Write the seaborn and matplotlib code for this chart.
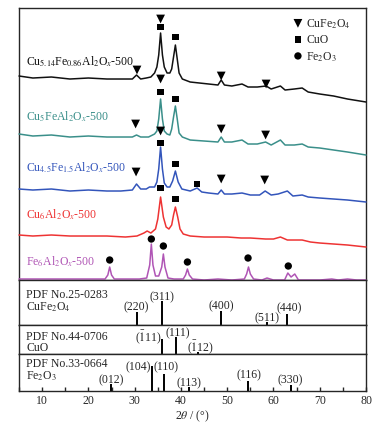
import matplotlib
matplotlib.use("Agg")
import matplotlib.pyplot as plt
import seaborn as sns
from matplotlib.ticker import MultipleLocator

# ==========================================
# DATA
# ==========================================
# Cu5.14Fe0.86Al2Ox-500 (black)
tt_black = [5, 8, 12, 16, 20, 24, 27, 29.5, 30.4, 31.3, 32.5, 33.5, 34.3, 34.8, 35.2, 35.6, 36.0, 36.4, 37.0, 37.6,
            38.0, 38.4, 38.8, 39.2, 39.6, 40.3, 42, 44, 46, 48.0, 48.7, 49.4, 51, 53.2, 54.5, 56.5, 58.4, 59.5, 61.5, 62.5,
            64.5, 66.2, 67.5, 70, 73, 76, 80]
int_black = [206, 204, 205, 203, 204, 203, 203, 203, 207, 203, 204, 205, 209, 215, 227, 249, 227, 215, 209, 209,
             213, 225, 237, 223, 209, 203, 200, 199, 198, 197, 202, 197, 196, 198, 195, 195, 196, 193, 196, 192,
             193, 194, 190, 188, 186, 183, 180]

# Cu5FeAl2Ox-500 (teal)
tt_teal = [5, 8, 12, 16, 20, 24, 27, 29.5, 30.4, 31.3, 33, 34.3, 34.8, 35.2, 35.6, 36.0, 36.4, 37.0, 37.6, 38.0,
           38.4, 38.8, 39.2, 39.6, 40.3, 42, 45, 48.0, 48.7, 49.4, 51, 53.2, 54.5, 56.5, 58.3, 59.5, 61.5, 62.5, 64.5, 66.2,
           67.5, 70, 73, 76, 80]
int_teal = [148, 146, 147, 145, 146, 145, 145, 145, 147, 145, 145, 148, 151, 163, 183, 163, 151, 148, 147, 153,
            165, 176, 163, 149, 145, 142, 141, 140, 145, 140, 140, 142, 138, 138, 140, 137, 142, 137, 137, 138,
            135, 134, 132, 130, 127]

# Cu4.5Fe1.5Al2Ox-500 (blue)
tt_blue = [5, 8, 12, 16, 20, 24, 27, 29.5, 30.4, 31.3, 32.5, 33.2, 34.3, 34.8, 35.2, 35.6, 36.0, 36.4, 37.0, 37.6,
           38.2, 38.8, 39.4, 40.2, 42, 43.5, 44.5, 46, 48.0, 48.7, 49.4, 51, 53.2, 55, 57, 58.2, 59.5, 61, 63.0, 64.2,
           66.2, 67.5, 70, 73, 76, 80]
int_blue = [93, 92, 93, 91, 92, 91, 91, 92, 98, 93, 93, 95, 95, 100, 113, 135, 113, 99, 95, 95,
            101, 111, 100, 93, 91, 94, 90, 89, 88, 92, 88, 88, 89, 87, 87, 91, 87, 88, 91, 86,
            87, 85, 84, 83, 82, 80]

# Cu6Al2Ox-500 (red)
tt_red = [5, 8, 12, 16, 20, 24, 28, 30.5, 32.0, 32.7, 33.5, 34.5, 35.0, 35.6, 36.2, 36.8, 37.4, 38.0, 38.4, 38.8,
          39.3, 39.8, 40.5, 42, 45, 48, 50, 53, 55, 58.3, 60, 61.5, 63, 65, 66.2, 68, 70, 73, 76, 80]
int_red = [47, 46, 47, 46, 46, 46, 45, 46, 49, 51, 49, 53, 63, 85, 65, 55, 53, 57, 67, 75,
           65, 53, 48, 46, 45, 45, 45, 44, 44, 43, 43, 45, 42, 42, 42, 40, 39, 38, 37, 35]

# Fe6Al2Ox-500 (purple)
tt_purple = [5, 8, 12, 16, 20, 23.6, 24.2, 24.6, 25.0, 25.6, 28, 31, 32.6, 33.25, 33.6, 33.95, 34.5, 35.2, 35.85, 36.2,
             36.55, 37.2, 38.5, 40.5, 41.0, 41.4, 41.8, 42.5, 45, 48, 51, 53.7, 54.2, 54.6, 55.0, 55.7, 57.5, 58.6, 60, 62.4,
             62.7, 63.1, 63.8, 64.6, 65.4, 67.5, 70, 72.6, 74, 76, 78, 80]
int_purple = [3, 3, 3, 3, 3, 3, 7, 15, 7, 3, 3, 3, 4, 17, 38, 17, 6, 6, 15, 28,
              15, 4, 3, 3, 7, 13, 7, 3, 2, 3, 2, 3, 8, 15, 8, 3, 2, 4, 2, 2,
              5, 9, 5, 8, 2, 2, 2, 3, 2, 3, 2, 2]

# phase markers placed over the patterns
tri_tt = [30.5, 35.6, 48.7, 58.4, 30.2, 35.6, 48.7, 58.3, 30.3, 35.6, 48.7, 58.1]
tri_int = [212, 263, 206, 198, 158, 203, 153, 147, 110, 151, 103, 102]
sq_tt = [35.6, 38.8, 35.6, 38.8, 35.6, 38.8, 43.5, 35.6, 38.8]
sq_int = [255, 245, 190, 183, 139, 118, 98, 94, 83]
dot_tt = [24.6, 33.6, 36.2, 41.4, 54.5, 63.2]
dot_int = [22, 43, 36, 20, 24, 16]

# standard cards (stick patterns)
cufe_tt = [30.4, 35.8, 48.7, 58.5, 63.0]
cufe_h = [13, 24, 14, 3, 11]
cufe_hkl = ["(220)", "(311)", "(400)", "(511)", "(440)"]

cuo_tt = [36.0, 38.9, 43.7]
cuo_h = [15, 17, 2]
cuo_hkl = [r"($\bar{1}$11)", "(111)", r"($\bar{1}$12)"]

fe_tt = [24.8, 33.7, 36.3, 41.7, 54.6, 63.7]
fe_h = [7, 25, 17, 4, 10, 6]
fe_hkl = ["(012)", "(104)", "(110)", "(113)", "(116)", "(330)"]

sample_names = [r"Cu$_{5.14}$Fe$_{0.86}$Al$_2$O$_x$-500", r"Cu$_5$FeAl$_2$O$_x$-500",
                r"Cu$_{4.5}$Fe$_{1.5}$Al$_2$O$_x$-500", r"Cu$_6$Al$_2$O$_x$-500", r"Fe$_6$Al$_2$O$_x$-500"]

# ==========================================
# STYLE
# ==========================================
sns.set_style("ticks")
plt.rcParams["font.family"] = ["Liberation Serif", "DejaVu Serif"]
plt.rcParams["mathtext.fontset"] = "stix"
plt.rcParams["axes.linewidth"] = 1.0
FS = 8.5

colors = ["#111111", "#3a8f8a", "#3355bb", "#ee3333", "#b055b5"]
traces = [(tt_black, int_black), (tt_teal, int_teal), (tt_blue, int_blue),
          (tt_red, int_red), (tt_purple, int_purple)]
name_y = [221, 166, 115, 68, 21]

fig = plt.figure(figsize=(3.8, 4.31), dpi=100)
L, W = 0.05, 0.9132
ax_main = fig.add_axes([L, 0.348, W, 0.6311])
ax_cufe = fig.add_axes([L, 0.2436, W, 0.1044])
ax_cuo = fig.add_axes([L, 0.1763, W, 0.0673])
ax_fe = fig.add_axes([L, 0.0905, W, 0.0858])

# ---- main panel: measured patterns ----
for (xx, yy), c, name, ny in zip(traces, colors, sample_names, name_y):
    sns.lineplot(x=xx, y=yy, color=c, linewidth=1.1, estimator=None, sort=False, ax=ax_main)
    ax_main.text(6.6, ny, name, color=c, fontsize=FS, ha="left", va="center")
for ln in ax_main.lines:
    ln.set_clip_on(False)
    ln.set_zorder(3)

sns.scatterplot(x=tri_tt, y=tri_int, marker="v", s=40, color="black", edgecolor="none",
                label=r"CuFe$_2$O$_4$", ax=ax_main, zorder=5)
sns.scatterplot(x=sq_tt, y=sq_int, marker="s", s=22, color="black", edgecolor="none",
                label="CuO", ax=ax_main, zorder=5)
sns.scatterplot(x=dot_tt, y=dot_int, marker="o", s=28, color="black", edgecolor="none",
                label=r"Fe$_2$O$_3$", ax=ax_main, zorder=5)
ax_main.legend(loc="upper right", bbox_to_anchor=(0.977, 0.995), frameon=False, fontsize=FS,
               handletextpad=0.1, labelspacing=0.3, handlelength=1.2, borderaxespad=0.2)
ax_main.set_ylim(2, 274)

# ---- stick panels ----
def stick_panel(ax, tt, h, hkl, top, card, phase, card_y, lab_pos):
    ax.vlines(tt, 0, h, color="black", linewidth=1.4)
    for (lx, ly, ha), s in zip(lab_pos, hkl):
        ax.text(lx, ly, s, fontsize=FS, ha=ha, va="center")
    ax.text(6.6, card_y[0], card, fontsize=FS, ha="left", va="center")
    ax.text(6.6, card_y[1], phase, fontsize=FS, ha="left", va="center")
    ax.set_ylim(0, top)

stick_panel(ax_cufe, cufe_tt, cufe_h, cufe_hkl, 45, "PDF No.25-0283", r"CuFe$_2$O$_4$", (31, 19),
            [(30.4, 19, "center"), (35.8, 29, "center"), (48.7, 20, "center"),
             (58.5, 8, "center"), (63.4, 18, "center")])
stick_panel(ax_cuo, cuo_tt, cuo_h, cuo_hkl, 29, "PDF No.44-0706", "CuO", (18, 7),
            [(35.8, 18, "right"), (39.3, 22, "center"), (44.2, 8, "center")])
stick_panel(ax_fe, fe_tt, fe_h, fe_hkl, 37, "PDF No.33-0664", r"Fe$_2$O$_3$", (28, 16),
            [(24.9, 12, "center"), (33.5, 25, "right"), (36.8, 25, "center"),
             (41.7, 9, "center"), (54.6, 17, "center"), (63.7, 12, "center")])

for ax in [ax_main, ax_cufe, ax_cuo, ax_fe]:
    ax.set_xlim(5, 80)
    ax.set_yticks([])
    ax.set_ylabel("")
    ax.tick_params(axis="x", which="both", bottom=False, labelbottom=False)
    for sp in ax.spines.values():
        sp.set_visible(True)
        sp.set_linewidth(1.0)

ax_fe.xaxis.set_major_locator(MultipleLocator(10))
ax_fe.xaxis.set_minor_locator(MultipleLocator(5))
ax_fe.tick_params(axis="x", which="both", bottom=True, labelbottom=True, direction="in",
                  length=3, width=1.0, labelsize=FS, pad=2)
ax_fe.set_xlabel(r"2$\theta$ / (°)", fontsize=FS, labelpad=1)

fig.savefig("out.png", dpi=100)
